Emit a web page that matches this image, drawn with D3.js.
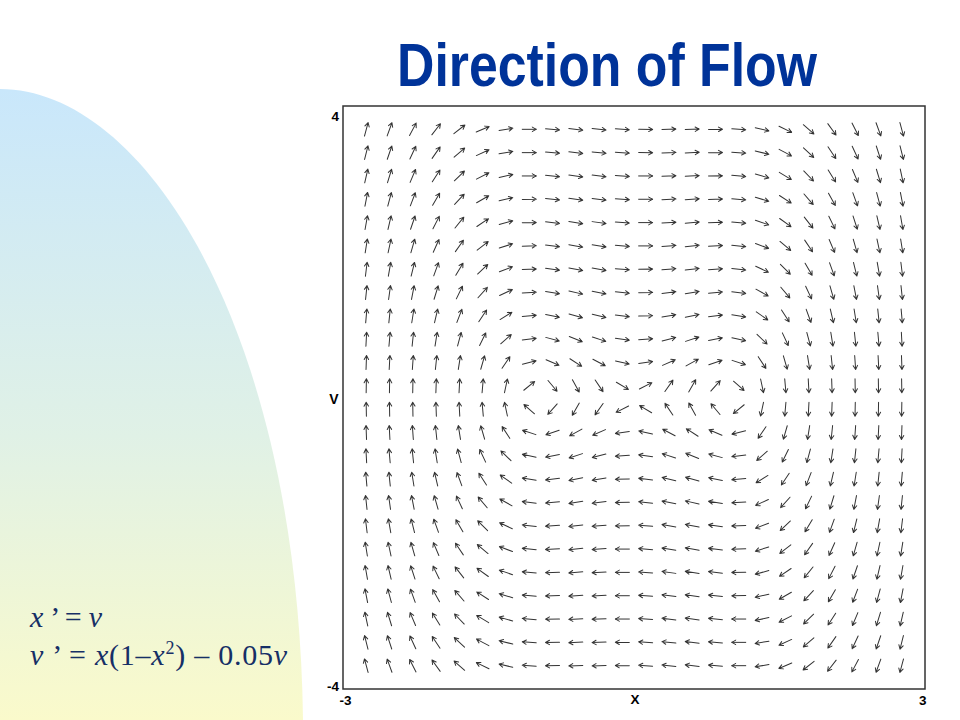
<!DOCTYPE html>
<html><head><meta charset="utf-8">
<script src="https://cdn.jsdelivr.net/npm/d3@7"></script>
<style>html,body{margin:0;padding:0;background:#fff;} svg{display:block;}</style>
</head><body>
<svg id="chart" width="960" height="720"></svg>
<script>
// ---------- data ----------
const titleText = "Direction of Flow";
const equationLine1 = [["x", "i"], [" ’ = ", "r"], ["v", "i"]];
const equationLine2 = [["v", "i"], [" ’ = ", "r"], ["x", "i"], ["(1–", "r"], ["x", "i"], ["2", "sup"], [") – 0.05", "r"], ["v", "i"]];
// grid positions (x across, v down from the top row)
const xValues = [-2.76,-2.52,-2.28,-2.04,-1.80,-1.56,-1.32,-1.08,-0.84,-0.60,-0.36,-0.12,
                  0.12, 0.36, 0.60, 0.84, 1.08, 1.32, 1.56, 1.80, 2.04, 2.28, 2.52, 2.76];
const vValues = [3.68,3.36,3.04,2.72,2.40,2.08,1.76,1.44,1.12,0.80,0.48,0.16,
                 -0.16,-0.48,-0.80,-1.12,-1.44,-1.76,-2.08,-2.40,-2.72,-3.04,-3.36,-3.68];
const xTicks = [-3, 3];
const vTicks = [-4, 4];
const xAxisLabel = "X";
const vAxisLabel = "V";
// arrow direction on screen, degrees counter-clockwise from pointing right; one row per v value
const arrowAngles = [
 [75,70,62,52,38,23,9,0,-5,-7,-6,-4,-1,2,2,1,-4,-13,-26,-41,-54,-63,-70,-75],
 [76,71,65,55,41,25,10,0,-5,-7,-6,-4,-1,2,3,1,-4,-14,-28,-43,-56,-65,-72,-76],
 [77,73,67,57,44,27,12,0,-6,-8,-7,-4,0,2,3,1,-5,-16,-31,-46,-58,-67,-73,-78],
 [79,75,69,60,47,30,13,1,-6,-8,-7,-4,0,3,4,2,-5,-17,-33,-49,-61,-70,-75,-79],
 [80,77,71,63,51,34,15,1,-7,-9,-8,-4,0,3,5,2,-5,-19,-36,-52,-64,-72,-77,-80],
 [81,78,74,66,55,38,18,2,-7,-10,-9,-5,0,4,6,3,-6,-21,-40,-56,-67,-74,-78,-81],
 [83,80,76,70,59,43,21,2,-8,-11,-10,-5,1,5,7,4,-7,-25,-45,-60,-70,-76,-80,-83],
 [84,82,79,73,64,48,25,3,-9,-13,-11,-6,1,7,9,5,-7,-29,-50,-65,-74,-79,-82,-84],
 [85,84,81,77,69,56,32,5,-12,-16,-14,-7,2,10,12,7,-9,-35,-57,-70,-77,-81,-84,-85],
 [87,85,84,81,75,64,41,7,-15,-22,-18,-8,4,14,18,11,-12,-44,-65,-75,-81,-84,-85,-87],
 [88,87,86,84,81,74,56,14,-23,-33,-28,-13,8,24,29,19,-18,-57,-74,-81,-84,-86,-87,-88],
 [89,89,89,88,87,85,78,39,-50,-61,-56,-31,27,55,60,48,-41,-78,-85,-87,-88,-89,-89,-89],
 [91,91,91,92,93,95,102,139,228,240,235,207,149,124,119,130,219,258,265,267,268,269,269,269],
 [92,93,94,96,99,106,123,162,199,209,204,188,167,152,147,157,194,236,254,261,264,266,267,268],
 [93,95,96,99,105,115,136,168,191,198,194,184,172,162,158,165,187,221,244,255,261,264,265,267],
 [95,96,99,103,110,123,145,171,187,192,190,182,173,166,164,168,185,212,236,249,257,261,264,265],
 [96,98,101,106,115,130,151,173,185,189,187,181,174,169,167,171,183,205,228,244,253,259,262,264],
 [97,100,104,110,120,135,155,173,184,187,185,181,175,170,169,172,182,201,223,239,250,256,260,263],
 [99,102,106,113,124,140,159,174,183,186,184,180,175,171,170,173,182,198,218,235,246,254,258,261],
 [100,103,108,116,128,144,161,175,182,185,183,180,176,172,171,173,181,195,214,231,243,251,257,260],
 [101,105,110,119,131,147,163,175,182,184,183,180,176,173,172,174,181,193,210,227,240,249,255,259],
 [102,107,113,122,134,149,164,175,181,183,182,180,176,173,172,174,180,192,207,224,237,247,253,257],
 [104,108,115,124,137,152,166,176,181,183,182,179,176,174,173,175,180,190,205,221,235,245,251,256],
 [105,110,117,126,139,154,167,176,181,182,182,179,176,174,173,175,180,189,203,218,232,242,250,255]
];

// ---------- drawing ----------
const svg = d3.select("#chart");
const defs = svg.append("defs");
const grad = defs.append("linearGradient").attr("id", "bgGrad")
  .attr("x1", 0).attr("y1", 0).attr("x2", 0).attr("y2", 1);
grad.append("stop").attr("offset", "0%").attr("stop-color", "#c9e7fb");
grad.append("stop").attr("offset", "55%").attr("stop-color", "#e0f1e6");
grad.append("stop").attr("offset", "100%").attr("stop-color", "#fafacb");

svg.append("rect").attr("width", 960).attr("height", 720).attr("fill", "#ffffff");
svg.append("path")
  .attr("d", "M0,89 C145,89 298,330 303,720 L0,720 Z")
  .attr("fill", "url(#bgGrad)");

// title
svg.append("text")
  .attr("x", 397).attr("y", 86)
  .attr("font-family", "'Liberation Sans Narrow','Arial Narrow','Liberation Sans',Arial,sans-serif")
  .attr("font-weight", "bold").attr("font-size", 62)
  .attr("fill", "#003399")
  .attr("textLength", 420).attr("lengthAdjust", "spacingAndGlyphs")
  .text(titleText);

// equations
function eqLine(parts, yBase, len) {
  const t = svg.append("text").attr("x", 30).attr("y", yBase)
    .attr("font-family", "'Liberation Serif','Times New Roman',Times,serif")
    .attr("font-size", 30).attr("fill", "#162f66")
    .style("white-space", "pre");
  if (len) t.attr("textLength", len).attr("lengthAdjust", "spacing");
  let raised = false;
  parts.forEach(([s, k]) => {
    const ts = t.append("tspan").text(s);
    if (k === "i") ts.attr("font-style", "italic");
    if (k === "sup") { ts.attr("font-size", 18).attr("dy", -11); raised = true; }
    else if (raised) { ts.attr("dy", 11); raised = false; }
  });
}
eqLine(equationLine1, 627, 72);
eqLine(equationLine2, 665, 257);

// plot
const plotLeft = 343, plotRight = 925, plotTop = 106, plotBottom = 689;
const x = d3.scaleLinear().domain([-3, 3]).range([plotLeft, plotRight]);
const y = d3.scaleLinear().domain([-4, 4]).range([plotBottom, plotTop]);

svg.append("rect").attr("x", plotLeft).attr("y", plotTop)
  .attr("width", plotRight - plotLeft).attr("height", plotBottom - plotTop)
  .attr("fill", "#ffffff").attr("stroke", "#333").attr("stroke-width", 1.5);

const arrowsG = svg.append("g").attr("fill", "none").attr("stroke", "#333")
  .attr("stroke-width", 1).attr("stroke-linecap", "round").attr("stroke-linejoin", "round");
const cells = [];
vValues.forEach((v, j) => xValues.forEach((xv, i) => cells.push({ xv, v, a: arrowAngles[j][i] })));
arrowsG.selectAll("path").data(cells).join("path")
  .attr("transform", d => `translate(${x(d.xv)},${y(d.v)}) rotate(${-d.a})`)
  .attr("d", "M-7,0 L7,0 M3,-2.2 L7,0 L3,2.2");

// axes: tick labels at the extremes only
const font = "'Liberation Sans',Arial,Helvetica,sans-serif";
const xAxis = svg.append("g").attr("transform", `translate(0,${plotBottom})`)
  .call(d3.axisBottom(x).tickValues(xTicks).tickSize(0).tickPadding(6).tickFormat(d => String(d)));
xAxis.select(".domain").remove();
xAxis.selectAll("text").attr("font-family", font).attr("font-size", 13.5).attr("font-weight", "bold")
  .attr("fill", "#000")
  .attr("text-anchor", d => d < 0 ? "start" : "end")
  .attr("dx", d => d < 0 ? -4 : 1);
const vAxis = svg.append("g").attr("transform", `translate(${plotLeft},0)`)
  .call(d3.axisLeft(y).tickValues(vTicks).tickSize(0).tickPadding(4).tickFormat(d => String(d)));
vAxis.select(".domain").remove();
vAxis.selectAll("text").attr("font-family", font).attr("font-size", 13.5).attr("font-weight", "bold")
  .attr("fill", "#000")
  .attr("dy", d => d > 0 ? "1.05em" : "0.1em");

svg.append("text").attr("x", (plotLeft + plotRight) / 2 + 1).attr("y", 704)
  .attr("text-anchor", "middle").attr("font-family", font).attr("font-size", 13.5)
  .attr("font-weight", "bold").text(xAxisLabel);
svg.append("text").attr("x", 334).attr("y", 404)
  .attr("text-anchor", "middle").attr("font-family", font).attr("font-size", 14)
  .attr("font-weight", "bold").text(vAxisLabel);
</script>
</body></html>
